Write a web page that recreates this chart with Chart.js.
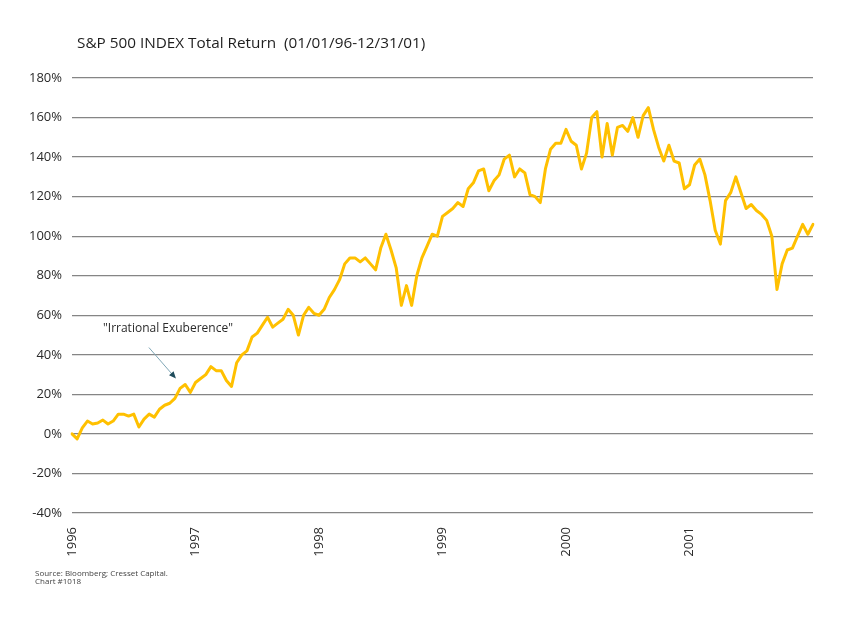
<!DOCTYPE html>
<html>
<head>
<meta charset="utf-8">
<script src="https://cdn.jsdelivr.net/npm/chart.js@4.4.1/dist/chart.umd.min.js"></script>
<style>
  html, body { margin: 0; padding: 0; background: #fff; }
  #wrap { width: 851px; height: 618px; position: relative; }
</style>
</head>
<body>
<div id="wrap"><canvas id="chart"></canvas></div>
<script>
// Tick labels on the x axis
const years = ["1996", "1997", "1998", "1999", "2000", "2001"]
const months = ["01", "02", "03", "04", "05", "06", "07", "08", "09", "10", "11", "12"]
const halves = ["01", "15"]

// Total return (%), two readings per month
const r1996 = [0, -2.5, 3, 6.5, 5, 5.5, 7, 5, 6.5, 10, 10, 9, 10, 3.5, 7.5, 10, 8.5, 12.5, 14.5, 15.5, 18, 23, 25, 21]
const r1997 = [26, 28, 30, 34, 32, 32, 27, 24, 36, 40, 42, 49, 51, 55, 59, 54, 56, 58, 63, 60, 50, 60, 64, 61]
const r1998 = [60, 63, 69, 73, 78, 86, 89, 89, 87, 89, 86, 83, 94, 101, 93, 84, 65, 75, 65, 80, 89, 95, 101, 100]
const r1999 = [110, 112, 114, 117, 115, 124, 127, 133, 134, 123, 128, 131, 139, 141, 130, 134, 132, 121, 120, 117, 134, 144, 147, 147]
const r2000 = [154, 148, 146, 134, 142, 160, 163, 140, 157, 141, 155, 156, 153, 160, 150, 161, 165, 154, 145, 138, 146, 138, 137, 124]
const r2001 = [126, 136, 139, 131, 118, 103, 96, 118, 122, 130, 122, 114, 116, 113, 111, 108, 100, 73, 86, 93, 94, 100, 106, 101]
const lastClose = [106]

const titleText = "S&P 500 INDEX Total Return  (01/01/96-12/31/01)"
const noteText = "\"Irrational Exuberence\""
const sourceLines = ["Source: Bloomberg; Cresset Capital.", "Chart #1018"]

const FONT = '"Open Sans", "Noto Sans", sans-serif'

// Build the category labels (one per half month)
const labels = []
years.forEach(yr => {
  months.forEach(m => {
    halves.forEach(d => labels.push(`${m}/${d}/${yr}`))
  })
})
labels.push("12/31/2001")

const values = [].concat(r1996, r1997, r1998, r1999, r2000, r2001, lastClose)

// Title, annotation and footnote
const overlay = {
  id: "overlay",
  afterDraw(chart) {
    const { ctx, scales } = chart
    const x = scales.x
    const y = scales.y
    ctx.save()
    ctx.textBaseline = "alphabetic"
    ctx.textAlign = "left"

    ctx.fillStyle = "#1e1e1e"
    ctx.font = `15.3px ${FONT}`
    ctx.fillText(titleText, 77, 48)

    ctx.fillStyle = "#2a2a2a"
    ctx.font = `12px ${FONT}`
    ctx.fillText(noteText, 103, 332)

    // arrow pointing at the Dec 1996 speech
    const tipX = x.getPixelForValue(20) + 1
    const tipY = y.getPixelForValue(28)
    const tailX = tipX - 27
    const tailY = tipY - 31
    const ang = Math.atan2(tipY - tailY, tipX - tailX)
    ctx.strokeStyle = "#7fa6b6"
    ctx.lineWidth = 1
    ctx.beginPath()
    ctx.moveTo(tailX, tailY)
    ctx.lineTo(tipX - 5 * Math.cos(ang), tipY - 5 * Math.sin(ang))
    ctx.stroke()
    ctx.fillStyle = "#1f4c5c"
    ctx.beginPath()
    ctx.moveTo(tipX, tipY)
    ctx.lineTo(tipX - 7 * Math.cos(ang) + 3 * Math.sin(ang), tipY - 7 * Math.sin(ang) - 3 * Math.cos(ang))
    ctx.lineTo(tipX - 7 * Math.cos(ang) - 3 * Math.sin(ang), tipY - 7 * Math.sin(ang) + 3 * Math.cos(ang))
    ctx.closePath()
    ctx.fill()

    ctx.fillStyle = "#444"
    ctx.font = `8px ${FONT}`
    ctx.fillText(sourceLines[0], 35, 576)
    ctx.fillText(sourceLines[1], 35, 584)
    ctx.restore()
  }
}

new Chart(document.getElementById("chart"), {
  type: "line",
  data: {
    labels: labels,
    datasets: [{
      label: "S&P 500 Total Return",
      data: values,
      borderColor: "#FFC000",
      borderWidth: 3,
      borderJoinStyle: "round",
      borderCapStyle: "round",
      pointRadius: 0,
      tension: 0,
      fill: false
    }]
  },
  options: {
    responsive: true,
    maintainAspectRatio: false,
    animation: false,
    layout: {
      padding: { left: 0, top: 78, right: 38, bottom: 0 }
    },
    plugins: {
      legend: { display: false },
      tooltip: { enabled: false }
    },
    scales: {
      x: {
        offset: false,
        grid: { display: false },
        border: { display: false },
        afterFit: scale => { scale.height = 105 },
        ticks: {
          autoSkip: false,
          minRotation: 90,
          maxRotation: 90,
          padding: 6,
          color: "#2a2a2a",
          font: { family: FONT, size: 13 },
          callback: function(value, index) {
            return index % 24 === 0 && index < 144 ? years[index / 24] : ""
          }
        }
      },
      y: {
        min: -40,
        max: 180,
        afterFit: scale => { scale.width = 72 },
        border: { display: false },
        grid: {
          color: "#858585",
          lineWidth: 1.2,
          drawTicks: false
        },
        ticks: {
          stepSize: 20,
          padding: 10,
          color: "#2a2a2a",
          font: { family: FONT, size: 13 },
          callback: function(value) {
            return value + "%"
          }
        }
      }
    }
  },
  plugins: [overlay]
})
</script>
</body>
</html>
